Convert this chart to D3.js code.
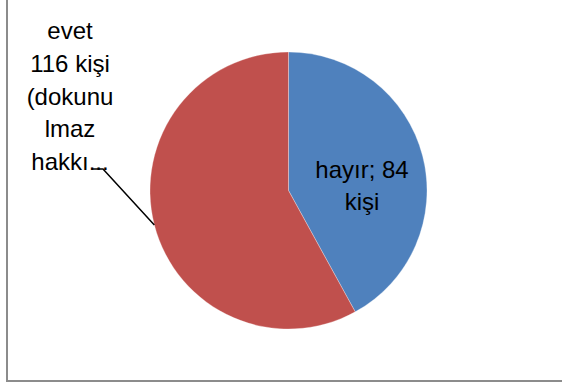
<!DOCTYPE html>
<html>
<head>
<meta charset="utf-8">
<script src="https://cdn.jsdelivr.net/npm/d3@7"></script>
<style>
  html, body { margin: 0; padding: 0; background: #fff; }
  svg { display: block; }
</style>
</head>
<body>
<svg id="chart" width="562" height="383"></svg>
<script>
// Answers and head counts
const categories = ["hayır", "evet"];
const values = [84, 116];
const colors = ["#4F81BD", "#C0504D"];
// Data label lines for each slice
const labelLines = [
  ["hayır; 84", "kişi"],
  ["evet", "116 kişi", "(dokunu", "lmaz", "hakkı..."]
];

const W = 562, H = 383;
const svg = d3.select("#chart");

// Chart frame (left and bottom edges visible)
svg.append("rect")
  .attr("x", 7).attr("y", -10)
  .attr("width", W + 10).attr("height", 391)
  .attr("fill", "none")
  .attr("stroke", "#8c8c8c")
  .attr("stroke-width", 2);

const cx = 288.5, cy = 190.5, r = 138.5;
const data = categories.map((c, i) => ({ name: c, value: values[i], color: colors[i], lines: labelLines[i] }));

const pie = d3.pie().sort(null).value(d => d.value);
const arcs = pie(data);
const arc = d3.arc().innerRadius(0).outerRadius(r);

const g = svg.append("g").attr("transform", `translate(${cx},${cy})`);

g.selectAll("path.slice")
  .data(arcs)
  .join("path")
  .attr("class", "slice")
  .attr("d", arc)
  .attr("fill", d => d.data.color)
  .attr("stroke", "#ffffff")
  .attr("stroke-opacity", 0.5)
  .attr("stroke-width", 0.6);

const font = "'Liberation Sans', Arial, sans-serif";
const fs = 24;

// Inside label for the first slice
const inLabel = g.append("text")
  .attr("text-anchor", "middle")
  .attr("font-family", font)
  .attr("font-size", fs)
  .attr("fill", "#000");
arcs[0].data.lines.forEach((t, i) => {
  inLabel.append("tspan")
    .attr("x", 73.5)
    .attr("y", -12.5 + i * 32)
    .text(t);
});

// Outside label for the second slice, with leader line
const outLabel = svg.append("text")
  .attr("text-anchor", "middle")
  .attr("font-family", font)
  .attr("font-size", fs)
  .attr("fill", "#000");
arcs[1].data.lines.forEach((t, i) => {
  outLabel.append("tspan")
    .attr("x", 70)
    .attr("y", 39 + i * 32.8)
    .text(t);
});

// Leader line ends on the slice edge at its mid angle
const edgeAngle = (arcs[1].startAngle + arcs[1].endAngle) / 2;
const ex = cx + r * Math.sin(edgeAngle);
const ey = cy - r * Math.cos(edgeAngle);
svg.append("polyline")
  .attr("points", `92,169 103,169 ${ex},${ey}`)
  .attr("fill", "none")
  .attr("stroke", "#000")
  .attr("stroke-width", 1.5);
</script>
</body>
</html>
